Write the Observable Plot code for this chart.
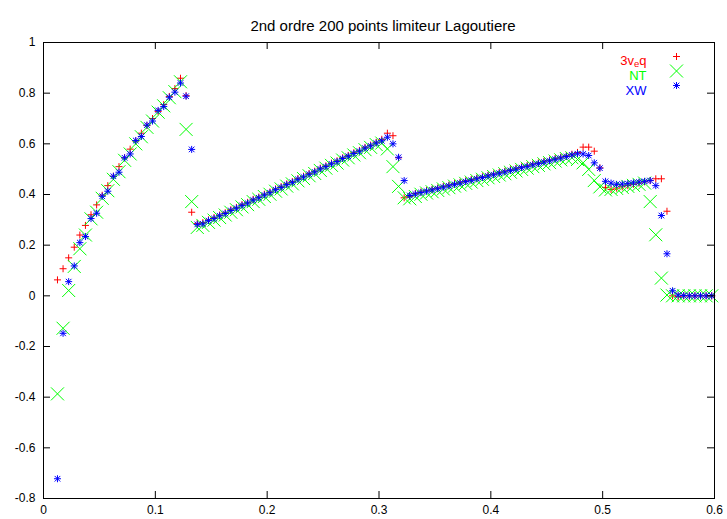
<!DOCTYPE html>
<html>
<head>
<meta charset="utf-8">
<script src="https://cdn.jsdelivr.net/npm/d3@7"></script>
<script src="https://cdn.jsdelivr.net/npm/@observablehq/plot@0.6"></script>
<style>
  html, body { margin: 0; padding: 0; background: #fff; }
  #chart svg { display: block; }
</style>
</head>
<body>
<div id="chart"></div>
<script>
// Cell centres of the 200-point mesh shown on [0, 0.6]
const xs = [
  0.0125,0.0175,0.0225,0.0275,0.0325,0.0375,0.0425,0.0475,0.0525,0.0575,
  0.0625,0.0675,0.0725,0.0775,0.0825,0.0875,0.0925,0.0975,0.1025,0.1075,
  0.1125,0.1175,0.1225,0.1275,0.1325,0.1375,0.1425,0.1475,0.1525,0.1575,
  0.1625,0.1675,0.1725,0.1775,0.1825,0.1875,0.1925,0.1975,0.2025,0.2075,
  0.2125,0.2175,0.2225,0.2275,0.2325,0.2375,0.2425,0.2475,0.2525,0.2575,
  0.2625,0.2675,0.2725,0.2775,0.2825,0.2875,0.2925,0.2975,0.3025,0.3075,
  0.3125,0.3175,0.3225,0.3275,0.3325,0.3375,0.3425,0.3475,0.3525,0.3575,
  0.3625,0.3675,0.3725,0.3775,0.3825,0.3875,0.3925,0.3975,0.4025,0.4075,
  0.4125,0.4175,0.4225,0.4275,0.4325,0.4375,0.4425,0.4475,0.4525,0.4575,
  0.4625,0.4675,0.4725,0.4775,0.4825,0.4875,0.4925,0.4975,0.5025,0.5075,
  0.5125,0.5175,0.5225,0.5275,0.5325,0.5375,0.5425,0.5475,0.5525,0.5575,
  0.5625,0.5675,0.5725,0.5775,0.5825,0.5875,0.5925,0.5975
];

// Scheme "3v_eq"
const v3veq = [
  0.063,0.107,0.150,0.192,0.240,0.278,0.320,0.359,0.397,0.435,
  0.472,0.510,0.545,0.579,0.611,0.642,0.672,0.700,0.728,0.755,
  0.787,0.818,0.859,0.790,0.330,0.285,0.289,0.300,0.309,0.319,
  0.328,0.340,0.349,0.360,0.369,0.381,0.390,0.401,0.410,0.422,
  0.431,0.442,0.451,0.463,0.472,0.483,0.492,0.504,0.513,0.524,
  0.533,0.545,0.554,0.565,0.574,0.586,0.595,0.606,0.618,0.642,
  0.632,0.545,0.387,0.392,0.404,0.410,0.416,0.421,0.426,0.432,
  0.437,0.443,0.448,0.454,0.459,0.465,0.470,0.476,0.481,0.487,
  0.492,0.498,0.503,0.509,0.514,0.520,0.525,0.531,0.536,0.542,
  0.547,0.553,0.559,0.566,0.587,0.587,0.571,0.505,0.428,0.420,
  0.425,0.430,0.435,0.440,0.445,0.450,0.455,0.462,0.462,0.334,
  0.000,-0.003,0.000,0.000,0.000,0.000,0.000,0.000
];

// Scheme "NT"
const nt = [
  -0.387,-0.128,0.021,0.116,0.186,0.240,0.304,0.330,0.385,0.415,
  0.460,0.490,0.535,0.560,0.600,0.628,0.665,0.690,0.725,0.750,
  0.782,0.806,0.845,0.657,0.372,0.270,0.278,0.290,0.299,0.309,
  0.319,0.330,0.340,0.351,0.360,0.372,0.381,0.392,0.401,0.413,
  0.422,0.433,0.442,0.454,0.463,0.474,0.483,0.495,0.504,0.515,
  0.524,0.536,0.545,0.556,0.565,0.577,0.586,0.597,0.603,0.580,
  0.510,0.432,0.387,0.383,0.392,0.401,0.406,0.411,0.416,0.422,
  0.427,0.433,0.438,0.444,0.449,0.455,0.460,0.466,0.471,0.477,
  0.482,0.488,0.493,0.499,0.504,0.510,0.515,0.521,0.526,0.532,
  0.537,0.542,0.545,0.538,0.525,0.499,0.455,0.430,0.418,0.420,
  0.424,0.428,0.432,0.436,0.440,0.445,0.372,0.241,0.070,0.003,
  0.000,0.000,0.000,0.000,0.000,0.000,0.000,0.000
];

// Scheme "XW"
const xw = [
  -0.722,-0.148,0.056,0.118,0.210,0.234,0.305,0.326,0.393,0.413,
  0.472,0.488,0.545,0.560,0.613,0.629,0.674,0.690,0.732,0.747,
  0.784,0.804,0.840,0.788,0.578,0.282,0.284,0.297,0.305,0.316,
  0.325,0.337,0.346,0.357,0.366,0.378,0.387,0.398,0.407,0.419,
  0.428,0.439,0.448,0.460,0.469,0.480,0.489,0.501,0.510,0.521,
  0.530,0.542,0.551,0.562,0.571,0.583,0.592,0.603,0.612,0.626,
  0.600,0.547,0.455,0.396,0.402,0.408,0.413,0.418,0.423,0.429,
  0.434,0.440,0.445,0.451,0.456,0.462,0.467,0.473,0.478,0.484,
  0.489,0.495,0.500,0.506,0.511,0.517,0.522,0.528,0.533,0.539,
  0.544,0.550,0.556,0.561,0.560,0.554,0.525,0.504,0.452,0.445,
  0.440,0.441,0.443,0.446,0.449,0.452,0.455,0.435,0.317,0.166,
  0.020,0.003,0.001,0.000,0.000,0.000,0.000,0.000
];

const seriesNames = ["3v_eq", "NT", "XW"];
const seriesColors = ["#ff0000", "#00ff00", "#0000ff"];
const xTicks = [0, 0.1, 0.2, 0.3, 0.4, 0.5, 0.6];
const yTicks = [-0.8, -0.6, -0.4, -0.2, 0, 0.2, 0.4, 0.6, 0.8, 1];
const title = "2nd ordre 200 points limiteur Lagoutiere";

// gnuplot-like point types: "+", "x" and "*" (plus and cross together)
const plusSym = {
  draw(ctx, size) {
    const r = Math.sqrt(size / Math.PI);
    ctx.moveTo(-r, 0); ctx.lineTo(r, 0);
    ctx.moveTo(0, -r); ctx.lineTo(0, r);
  }
};
const timesSym = {
  draw(ctx, size) {
    const r = Math.sqrt(size / Math.PI);
    ctx.moveTo(-r, -r); ctx.lineTo(r, r);
    ctx.moveTo(-r, r); ctx.lineTo(r, -r);
  }
};
const starSym = {
  draw(ctx, size) {
    const r = Math.sqrt(size / Math.PI);
    const d = r * 0.8;
    ctx.moveTo(-r, 0); ctx.lineTo(r, 0);
    ctx.moveTo(0, -r); ctx.lineTo(0, r);
    ctx.moveTo(-d, -d); ctx.lineTo(d, d);
    ctx.moveTo(-d, d); ctx.lineTo(d, -d);
  }
};
const seriesSymbols = [plusSym, timesSym, starSym];
const seriesR = [3.5, 6.5, 3.5];

const rows = xs.map((x, i) => ({x, v3: v3veq[i], nt: nt[i], xw: xw[i]}));
const fmt = d => String(+d.toFixed(1));

const W = 727, H = 519;
const mL = 43, mR = 13, mT = 42, mB = 21;
const frameW = W - mL - mR;
const frameH = H - mT - mB;
const tickLen = 7;

const marks = [
  Plot.dot(rows, {x: "x", y: "v3", symbol: plusSym, r: seriesR[0], stroke: seriesColors[0], fill: "none", strokeWidth: 1}),
  Plot.dot(rows, {x: "x", y: "nt", symbol: timesSym, r: seriesR[1], stroke: seriesColors[1], fill: "none", strokeWidth: 1}),
  Plot.dot(rows, {x: "x", y: "xw", symbol: starSym, r: seriesR[2], stroke: seriesColors[2], fill: "none", strokeWidth: 1}),
  Plot.frame({stroke: "#000"}),
  // inward ticks on all four sides
  Plot.tickX(xTicks, {x: d => d, insetTop: frameH - tickLen, stroke: "#000"}),
  Plot.tickX(xTicks, {x: d => d, insetBottom: frameH - tickLen, stroke: "#000"}),
  Plot.tickY(yTicks, {y: d => d, insetRight: frameW - tickLen, stroke: "#000"}),
  Plot.tickY(yTicks, {y: d => d, insetLeft: frameW - tickLen, stroke: "#000"}),
  Plot.axisX(xTicks, {tickSize: 0, tickPadding: 7, tickFormat: fmt, label: null, fontSize: 12}),
  Plot.axisY(yTicks, {tickSize: 0, tickPadding: 8, tickFormat: fmt, label: null, fontSize: 12}),
  Plot.text([title], {text: d => d, frameAnchor: "top", dy: -22, dx: 4, fontSize: 15, fill: "#000"})
];

// key in the upper right corner
const keyRows = [13, 28.5, 43];
seriesNames.forEach((name, i) => {
  const dy = keyRows[i];
  marks.push(Plot.text([name], {x: null, y: null, text: d => d, frameAnchor: "top-right", dx: -68, dy, textAnchor: "end", fill: seriesColors[i], fontSize: 13}));
  marks.push(Plot.dot([name], {x: null, y: null, frameAnchor: "top-right", dx: -38, dy: dy + (i === 0 ? 1 : 0), symbol: seriesSymbols[i], r: seriesR[i], stroke: seriesColors[i], fill: "none", strokeWidth: 1}));
});

const chart = Plot.plot({
  width: W, height: H,
  marginLeft: mL, marginRight: mR, marginTop: mT, marginBottom: mB,
  style: {fontFamily: '"Liberation Sans", Arial, Helvetica, sans-serif', fontSize: "12px", background: "#fff", color: "#000"},
  x: {domain: [0, 0.6], label: null},
  y: {domain: [-0.8, 1], label: null},
  marks
});

// subscript "e" in the first key label
d3.select(chart).selectAll("text").filter(function () { return this.textContent === "3v_eq"; })
  .each(function () {
    const t = d3.select(this);
    t.text(null);
    t.append("tspan").text("3v");
    t.append("tspan").attr("dy", 2.5).attr("font-size", 9.5).text("e");
    t.append("tspan").attr("dy", -2.5).text("q");
  });

document.getElementById("chart").appendChild(chart);
</script>
</body>
</html>
